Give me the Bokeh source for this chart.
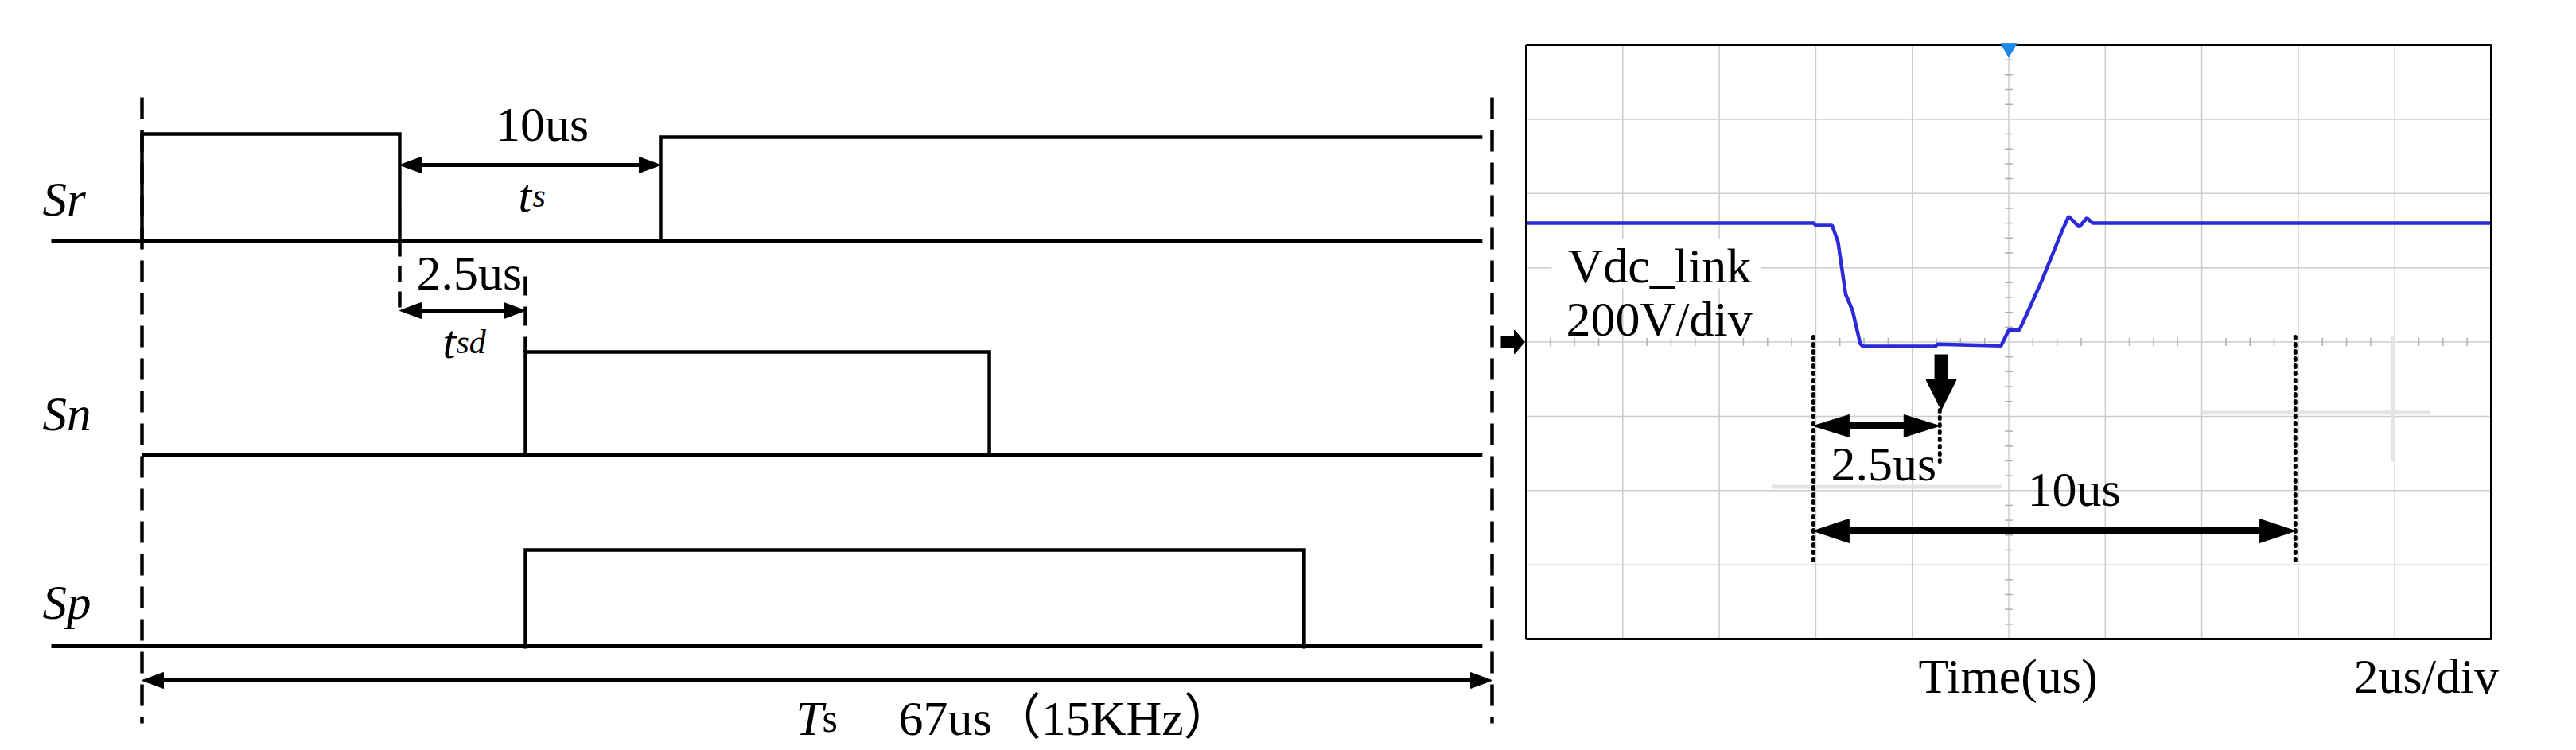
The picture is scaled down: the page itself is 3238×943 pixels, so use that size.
import numpy as np
from bokeh.plotting import figure
from bokeh.layouts import row
from bokeh.models import Range1d
from bokeh.core.properties import value
from bokeh.embed import file_html
from bokeh.resources import INLINE

# ------------------------------------------------------------------ data
# Left: switching timing diagram (positions along one 67 us period)
period_us = 67.0
signal_names = ["Sr", "Sn", "Sp"]
sr_pulse_start = [0.0, 25.74]
sr_pulse_end = [12.79, 66.52]
sr_pulse_closed = [True, False]
sn_pulse_start = [19.03]
sn_pulse_end = [42.05]
sp_pulse_start = [19.03]
sp_pulse_end = [57.64]
baseline_start = [-4.5, 0.0, -4.5]
baseline_end = [66.52, 66.52, 66.52]
ts_arrow = [12.79, 25.74]       # 10us (ts)
tsd_arrow = [12.79, 19.03]      # 2.5us (tsd)
ts_label = "10us"
tsd_label = "2.5us"
period_label = "67us（15KHz）"

# Right: oscilloscope capture, Vdc_link, 2us/div, 200V/div
scope_t = [0.0, 5.96, 6.00, 6.34, 6.46, 6.62, 6.76, 6.92, 6.98, 8.48, 8.52,
           9.84, 10.00, 10.22, 10.46, 10.68, 10.90, 11.10, 11.24, 11.46,
           11.62, 11.74, 20.0]
scope_div = [5.60, 5.60, 5.57, 5.57, 5.35, 4.64, 4.43, 3.98, 3.94, 3.94, 3.97,
             3.95, 4.16, 4.16, 4.50, 4.82, 5.17, 5.49, 5.69, 5.55,
             5.67, 5.60, 5.60]
scope_n_xdiv = 10
scope_n_ydiv = 8
scope_us_per_div = 2.0
scope_marker_t = [5.95, 8.57, 15.94]   # dashed markers
scope_down_arrow_t = 8.6

FONT = value("Liberation Serif")
FONT_CJK = value("Liberation Serif, Noto Sans CJK SC")

# page geometry (reference pixels); page content starts at (0, 0)
X_SPLIT, X_END, Y_END = 1880, 3230, 940
TXT_DY = 23   # compensation for the renderer's baseline placement (px)

# ------------------------------------------------------------------ left figure
KL = 1697.0 / period_us          # px per us
pl = figure(width=X_SPLIT, height=Y_END,
            x_range=Range1d((0 - 178) / KL, (X_SPLIT - 178) / KL),
            y_range=Range1d(Y_END, 0), output_backend="svg", toolbar_location=None,
            min_border=0, x_axis_location=None, y_axis_location=None,
            outline_line_color=None)
pl.grid.visible = False

base_y = [302, 571, 812]
high_y = [[168, 172], [442], [691]]
pulses = [(sr_pulse_start, sr_pulse_end, sr_pulse_closed),
          (sn_pulse_start, sn_pulse_end, [True]),
          (sp_pulse_start, sp_pulse_end, [True])]

for i in range(3):
    pl.line([baseline_start[i], baseline_end[i]], [base_y[i], base_y[i]],
            line_color="black", line_width=5)
    st, en, closed = pulses[i]
    for k in range(len(st)):
        hy = high_y[i][k]
        if closed[k]:
            xs = [st[k], st[k], en[k], en[k]]
            ys = [base_y[i] + 3, hy, hy, base_y[i] + 3]
        else:
            xs = [st[k], st[k], en[k]]
            ys = [base_y[i], hy, hy]
        pl.line(xs, ys, line_color="black", line_width=4.5, line_join="miter")

# period dashed boundaries
for t in [0.0, period_us]:
    pl.line([t, t], [122, 909], line_color="black", line_width=4.5, line_dash="27 14")

# short dashed guides
pl.line([ts_arrow[0], ts_arrow[0]], [302, 398], line_color="black", line_width=4.5,
        line_dash="20 12")
pl.line([tsd_arrow[1], tsd_arrow[1]], [347, 442], line_color="black", line_width=4.5,
        line_dash="24 14")


def l_arrow(x0, x1, y, lw=5, L=27, h=10):
    Lu = L / KL
    pl.line([x0 + Lu * 0.5, x1 - Lu * 0.5], [y, y], line_color="black", line_width=lw)
    pl.patches([[x1, x1 - Lu, x1 - Lu], [x0, x0 + Lu, x0 + Lu]],
               [[y, y - h, y + h], [y, y - h, y + h]],
               fill_color="black", line_color="black", line_width=1)


l_arrow(ts_arrow[0], ts_arrow[1], 207)
l_arrow(tsd_arrow[0], tsd_arrow[1], 390)
l_arrow(0.0, period_us, 855)

def ltext(x, y, s, size, style="normal", align="left", font=FONT):
    pl.text(x=[x], y=[y - TXT_DY], text=[s], text_font=font, text_font_size=size,
            text_font_style=style, text_align=align, text_baseline="alphabetic",
            text_color="black")

for name, by in zip(signal_names, [273, 543, 780]):
    ltext((53 - 178) / KL, by, name, "61px", "italic")

ltext((ts_arrow[0] + ts_arrow[1]) / 2 + 0.6, 178, ts_label, "62px", align="center")
ltext((651 - 178) / KL, 268, "t", "60px", "italic")
ltext((669 - 178) / KL, 268, "s", "42px", "italic")
ltext((523 - 178) / KL, 365, tsd_label, "62px")
ltext((556 - 178) / KL, 452, "t", "60px", "italic")
ltext((573 - 178) / KL, 452, "sd", "42px", "italic")
ltext((1000 - 178) / KL, 925, "T", "62px", "italic")
ltext((1033 - 178) / KL, 925, "s", "50px")
ltext((1129 - 178) / KL, 925, period_label, "62px", font=FONT_CJK)

# ------------------------------------------------------------------ right figure
KX = 1213.0 / (scope_n_xdiv * scope_us_per_div)   # px per us
KY = 747.0 / scope_n_ydiv                          # px per div
T_END = scope_n_xdiv * scope_us_per_div
pr = figure(width=X_END - X_SPLIT, height=Y_END,
            x_range=Range1d((X_SPLIT - 1918) / KX, (X_END - 1918) / KX),
            y_range=Range1d((803 - Y_END) / KY, (803 - 0) / KY),
            output_backend="svg", toolbar_location=None, min_border=0,
            x_axis_location=None, y_axis_location=None, outline_line_color=None)
pr.grid.visible = False

GRID = "#cccccc"
gx = [k * scope_us_per_div for k in range(1, scope_n_xdiv)]
gy = list(range(1, scope_n_ydiv))
pr.multi_line([[x, x] for x in gx], [[0, scope_n_ydiv]] * len(gx), line_color=GRID,
              line_width=1.5)
pr.multi_line([[0, T_END]] * len(gy), [[y, y] for y in gy], line_color=GRID,
              line_width=1.5)

# editing leftovers (light grey strokes)
pr.multi_line([[5.08, 9.86], [13.97, 18.73], [17.96, 17.96]],
              [[2.05, 2.05], [3.05, 3.05], [4.07, 2.39]],
              line_color="#e4e4e4", line_width=5)

# centre-line minor ticks
cx, cy = T_END / 2, scope_n_ydiv / 2
tick_h = 5 / KY
tick_w = 5 / KX
mx = [i * 0.5 for i in range(1, int(T_END / 0.5)) if abs((i * 0.5) % 2) > 1e-9]
my = [j * 0.2 for j in range(1, int(scope_n_ydiv / 0.2)) if abs(round(j * 0.2, 6) % 1) > 1e-6]
pr.multi_line([[x, x] for x in mx], [[cy - tick_h, cy + tick_h]] * len(mx),
              line_color="#b0b0b0", line_width=1.5)
pr.multi_line([[cx - tick_w, cx + tick_w]] * len(my), [[y, y] for y in my],
              line_color="#b0b0b0", line_width=1.5)

# white backing behind Vdc_link text
pr.quad(left=[(1950 - 1918) / KX], right=[(2213 - 1918) / KX],
        bottom=[(803 - 362) / KY], top=[(803 - 300) / KY],
        fill_color="white", line_color=None)

# waveform
pr.line(scope_t, scope_div, line_color="#2a2ad8", line_width=4.5)

# frame
pr.quad(left=[0], right=[T_END], bottom=[0], top=[scope_n_ydiv], fill_color=None,
        line_color="black", line_width=3)

# trigger marker and ground marker
pr.scatter([cx], [scope_n_ydiv - 4 / KY], marker="inverted_triangle", size=20,
           fill_color="#1e88e5", line_color="#1e88e5")
pr.line([(1886 - 1918) / KX, (1904 - 1918) / KX], [cy, cy], line_color="black",
        line_width=15)
pr.patches([[(1916 - 1918) / KX, (1903 - 1918) / KX, (1903 - 1918) / KX]],
           [[cy, cy + 15 / KY, cy - 15 / KY]], fill_color="black", line_color="black")

# dashed markers
y_top, y_bot = (803 - 423) / KY, (803 - 710) / KY
pr.multi_line([[scope_marker_t[0]] * 2, [scope_marker_t[2]] * 2],
              [[y_top, y_bot], [y_top, y_bot]], line_color="black", line_width=5,
              line_dash="2 7", line_cap="round")
pr.line([scope_marker_t[1]] * 2, [(803 - 515) / KY, (803 - 582) / KY],
        line_color="black", line_width=5, line_dash="2 7", line_cap="round")


def r_arrow(x0, x1, y, lw=9, L=45, h=14):
    Lu = L / KX
    hu = h / KY
    pr.line([x0 + Lu * 0.5, x1 - Lu * 0.5], [y, y], line_color="black", line_width=lw)
    pr.patches([[x1, x1 - Lu, x1 - Lu], [x0, x0 + Lu, x0 + Lu]],
               [[y, y - hu, y + hu], [y, y - hu, y + hu]],
               fill_color="black", line_color="black", line_width=1)


r_arrow(scope_marker_t[0], scope_marker_t[1], (803 - 535) / KY)
r_arrow(scope_marker_t[0], scope_marker_t[2], (803 - 667) / KY, h=15)

# down arrow
da = scope_down_arrow_t
pr.line([da, da], [(803 - 445) / KY, (803 - 480) / KY], line_color="black", line_width=17)
pr.patches([[da - 19 / KX, da + 19 / KX, da]],
           [[(803 - 477) / KY, (803 - 477) / KY, (803 - 515) / KY]],
           fill_color="black", line_color="black")


def rtext(x_px, base_px, s, size="62px"):
    pr.text(x=[(x_px - 1918) / KX], y=[(803 - base_px + TXT_DY) / KY], text=[s],
            text_font=FONT, text_font_size=size, text_align="left",
            text_baseline="alphabetic", text_color="black")


rtext(1970, 356, "Vdc_link")
rtext(1968, 423, "200V/div")
rtext(2301, 605, "2.5us")
rtext(2548, 637, "10us")
rtext(2411, 872, "Time(us)")
rtext(2958, 872, "2us/div")

layout = row(pl, pr, spacing=0)
open("out.html", "w").write(file_html(layout, INLINE))
